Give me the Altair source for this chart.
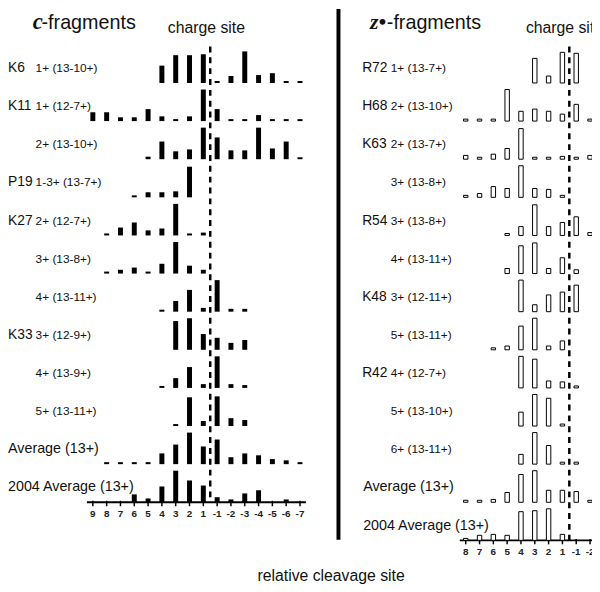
import altair as alt
import pandas as pd

N = None  # site not observed (no mark drawn)

# ---------------- c-fragments (left panel) ----------------
c_sites = [9, 8, 7, 6, 5, 4, 3, 2, 1, -1, -2, -3, -4, -5, -6, -7]
c_residue = ["K6", "K11", "", "P19", "K27", "", "", "K33", "", ""]
c_charge = ["1+ (13-10+)", "1+ (12-7+)", "2+ (13-10+)", "1-3+ (13-7+)", "2+ (12-7+)",
            "3+ (13-8+)", "4+ (13-11+)", "3+ (12-9+)", "4+ (13-9+)", "5+ (13-11+)"]
c_average_labels = ["Average (13+)", "2004 Average (13+)"]

c_K6_1 = [N, N, N, N, N, 55, 88, 88, 91, 0, 22, 100, 25, 31, 0, 0]
c_K11_1 = [28, 28, 12, 12, 38, 15, 0, 15, 100, 38, 0, 0, 19, 0, 0, 0]
c_K11_2 = [N, N, N, N, 8, 56, 25, 31, 100, 69, 28, 28, 100, 34, 56, 0]
c_P19 = [N, N, N, 0, 16, 16, 19, 97, N, N, N, N, N, N, N, N]
c_K27_2 = [N, 0, 25, 41, 16, 22, 100, 0, 9, N, N, N, N, N, N, N]
c_K27_3 = [N, 0, 12, 19, 0, 31, 100, 25, 12, N, N, N, N, N, N, N]
c_K27_4 = [N, N, N, N, N, 0, 34, 69, 12, 100, 9, 9, N, N, N, N]
c_K33_3 = [N, N, N, N, N, N, 91, 100, 50, 38, 22, 31, N, N, N, N]
c_K33_4 = [N, N, N, N, N, 0, 31, 66, 12, 100, 12, 9, N, N, N, N]
c_K33_5 = [N, N, N, N, N, N, 0, 91, 16, 94, 25, 19, N, N, N, N]
c_avg = [N, 0, 0, 0, 0, 34, 62, 100, 56, 78, 22, 34, 28, 16, 12, 0]
c_avg2004 = [N, N, N, 25, 12, 50, 100, 69, 53, 16, 9, 28, 38, N, 9, N]
c_rows = [c_K6_1, c_K11_1, c_K11_2, c_P19, c_K27_2, c_K27_3, c_K27_4,
          c_K33_3, c_K33_4, c_K33_5, c_avg, c_avg2004]

# ---------------- z-fragments (right panel) ----------------
z_sites = [8, 7, 6, 5, 4, 3, 2, 1, -1, -2]
z_residue = ["R72", "H68", "K63", "", "R54", "", "K48", "", "R42", "", ""]
z_charge = ["1+ (13-7+)", "2+ (13-10+)", "2+ (13-7+)", "3+ (13-8+)", "3+ (13-8+)",
            "4+ (13-11+)", "3+ (12-11+)", "5+ (13-11+)", "4+ (12-7+)", "5+ (13-10+)",
            "6+ (13-11+)"]
z_average_labels = ["Average (13+)", "2004 Average (13+)"]

z_R72_1 = [N, N, N, N, N, 78, 22, 97, 94, N]
z_H68_2 = [0, 0, 0, 100, 31, 38, 31, 22, 53, 0]
z_K63_2 = [12, 0, 16, 34, 97, 0, 0, 9, 0, 12]
z_K63_3 = [0, 12, 34, 28, 100, 28, 25, 0, N, N]
z_R54_3 = [N, N, N, 0, 28, 97, 28, 41, 59, 9]
z_R54_4 = [N, N, N, 16, 88, 97, 16, 50, 12, N]
z_K48_3 = [N, N, N, N, 100, 22, 53, 62, 84, N]
z_K48_5 = [N, N, 0, 12, 75, 100, 12, 28, N, N]
z_R42_4 = [N, N, N, N, 100, 91, 22, 19, 0, N]
z_R42_5 = [N, N, N, N, 44, 100, 88, 0, N, N]
z_R42_6 = [N, N, N, N, 31, 100, 59, 0, 0, N]
z_avg = [0, 0, 9, 31, 88, 100, 38, 38, 34, 0]
z_avg2004 = [6, 16, 19, 16, 91, 94, 100, 19, N, N]
z_rows = [z_R72_1, z_H68_2, z_K63_2, z_K63_3, z_R54_3, z_R54_4, z_K48_3,
          z_K48_5, z_R42_4, z_R42_5, z_R42_6, z_avg, z_avg2004]

# ---------------- layout ----------------
PAGE = 8
W, H = 592, 584
SLOT_PX = 14.0      # px between neighbouring cleavage sites
SITE0_X = 94.0      # page x of first left site
Z_OFFSET = 27       # slot offset of the right panel
ROW_PX = 38.64
ROW0_Y = 80.0
BAR_PX_PER_UNIT = 0.32
MIN_BAR_PX = 2.0
FONT = "Liberation Sans"


def sx(page_x):
    return (page_x - SITE0_X) / SLOT_PX


def ry(page_y):
    return (page_y - ROW0_Y) / ROW_PX


x_scale = alt.Scale(domain=[sx(PAGE), sx(PAGE + W)], nice=False, zero=False)
y_scale = alt.Scale(domain=[ry(PAGE), ry(PAGE + H)], reverse=True, nice=False, zero=False)


def X(f):
    return alt.X(f, type="quantitative", scale=x_scale, axis=None)


def Y(f):
    return alt.Y(f, type="quantitative", scale=y_scale, axis=None)


def bar_frame(rows, sites, offset, half):
    recs = []
    for i, vals in enumerate(rows):
        for j, (site, v) in enumerate(zip(sites, vals)):
            if v is None:
                continue
            h = max(v * BAR_PX_PER_UNIT, MIN_BAR_PX) / ROW_PX
            recs.append(dict(site=site, value=v, x=offset + j - half,
                             x2=offset + j + half, y=i, y2=i - h))
    return pd.DataFrame(recs)


c_df = bar_frame(c_rows, c_sites, 0, 0.18)
z_df = bar_frame(z_rows, z_sites, Z_OFFSET, 0.16)

c_bars = alt.Chart(c_df).mark_rect(color="black").encode(
    x=X("x"), x2="x2", y=Y("y"), y2="y2")
z_bars = alt.Chart(z_df).mark_rect(fill="white", stroke="black", strokeWidth=1).encode(
    x=X("x"), x2="x2", y=Y("y"), y2="y2")

c_axis_row = len(c_rows) - 1
z_axis_row = len(z_rows) - 1

# vertical separator
sep = alt.Chart(pd.DataFrame([dict(x=sx(343), y=ry(5), y2=ry(543))])).mark_rule(
    color="black", strokeWidth=4).encode(x=X("x"), y=Y("y"), y2="y2")

# charge-site dashed lines
dash_df = pd.DataFrame([
    dict(x=8.5, y=ry(43), y2=c_axis_row),
    dict(x=Z_OFFSET + 7.5, y=ry(43), y2=z_axis_row),
])
dashes = alt.Chart(dash_df).mark_rule(color="black", strokeWidth=2.5, strokeDash=[6, 5]).encode(
    x=X("x"), y=Y("y"), y2="y2")

# axis lines
axis_df = pd.DataFrame([
    dict(x=sx(88), x2=sx(310), y=c_axis_row),
    dict(x=sx(466), x2=sx(610), y=z_axis_row),
])
axis_lines = alt.Chart(axis_df).mark_rule(color="black", strokeWidth=2).encode(
    x=X("x"), x2="x2", y=Y("y"))

tick_recs = []
for j, s in enumerate(c_sites):
    tick_recs.append(dict(x=j, y=c_axis_row - 1.5 / ROW_PX, y2=c_axis_row + 4 / ROW_PX,
                          ly=c_axis_row + 11.5 / ROW_PX, label=str(s)))
for j, s in enumerate(z_sites):
    tick_recs.append(dict(x=Z_OFFSET + j, y=z_axis_row - 1.5 / ROW_PX, y2=z_axis_row + 4 / ROW_PX,
                          ly=z_axis_row + 11.5 / ROW_PX, label=str(s)))
tick_df = pd.DataFrame(tick_recs)
ticks = alt.Chart(tick_df).mark_rule(color="black", strokeWidth=1.5).encode(
    x=X("x"), y=Y("y"), y2="y2")
tick_labels = alt.Chart(tick_df).mark_text(
    font=FONT, fontSize=10, fontWeight="bold", align="center", baseline="middle",
    color="#222").encode(
    x=X("x"), y=Y("ly"), text="label:N")

# row labels
TXT_DY = 11 / ROW_PX
lab_recs = []
for i, r in enumerate(c_residue):
    if r:
        lab_recs.append(dict(kind="res", px=0, y=i - TXT_DY, t=r))
for i, c in enumerate(c_charge):
    lab_recs.append(dict(kind="chg", px=36 - PAGE, y=i - TXT_DY, t=c))
for k, a in enumerate(c_average_labels):
    lab_recs.append(dict(kind="avg", px=0, y=len(c_charge) + k - TXT_DY, t=a))
for i, r in enumerate(z_residue):
    if r:
        lab_recs.append(dict(kind="res", px=367 - PAGE, y=i - TXT_DY, t=r))
for i, c in enumerate(z_charge):
    lab_recs.append(dict(kind="chg", px=396 - PAGE, y=i - TXT_DY, t=c))
for k, a in enumerate(z_average_labels):
    lab_recs.append(dict(kind="avg", px=368 - PAGE, y=len(z_charge) + k - TXT_DY, t=a))
lab_df = pd.DataFrame(lab_recs)


def label_layer(kind, size):
    return alt.Chart(lab_df).transform_filter(alt.datum.kind == kind).mark_text(
        font=FONT, fontSize=size, align="left", baseline="alphabetic", color="#111").encode(
        x=alt.X("px:Q", scale=None, axis=None), y=Y("y"), text="t:N")


res_labels = label_layer("res", 14)
chg_labels = label_layer("chg", 12)
avg_labels = label_layer("avg", 14.5)


def free_text(text, page_x, page_y, size, align="left", font=FONT, style="normal", weight="normal"):
    return alt.Chart(pd.DataFrame({"t": [text]})).mark_text(
        font=font, fontSize=size, align=align, baseline="alphabetic",
        fontStyle=style, fontWeight=weight, color="#111").encode(
        x=alt.value(page_x - PAGE), y=alt.value(page_y - PAGE), text="t:N")


titles = [
    free_text("c", 33, 25, 23, font="Liberation Serif", style="italic", weight="bold"),
    free_text("-fragments", 42, 25, 20),
    free_text("charge site", 170, 29, 16),
    free_text("z•", 375, 25, 22, font="Liberation Serif", style="italic", weight="bold"),
    free_text("-fragments", 392, 25, 20),
    free_text("charge site", 533, 29, 16),
    free_text("relative cleavage site", 335.5, 585, 16, align="center"),
]

chart = alt.layer(
    sep, dashes, axis_lines, ticks, tick_labels, c_bars, z_bars,
    res_labels, chg_labels, avg_labels, *titles
).properties(
    width=W, height=H, padding=0, autosize="none", background="white"
).configure_view(stroke=None)

chart.save("out.html", embed_options={"renderer": "svg", "actions": False})
